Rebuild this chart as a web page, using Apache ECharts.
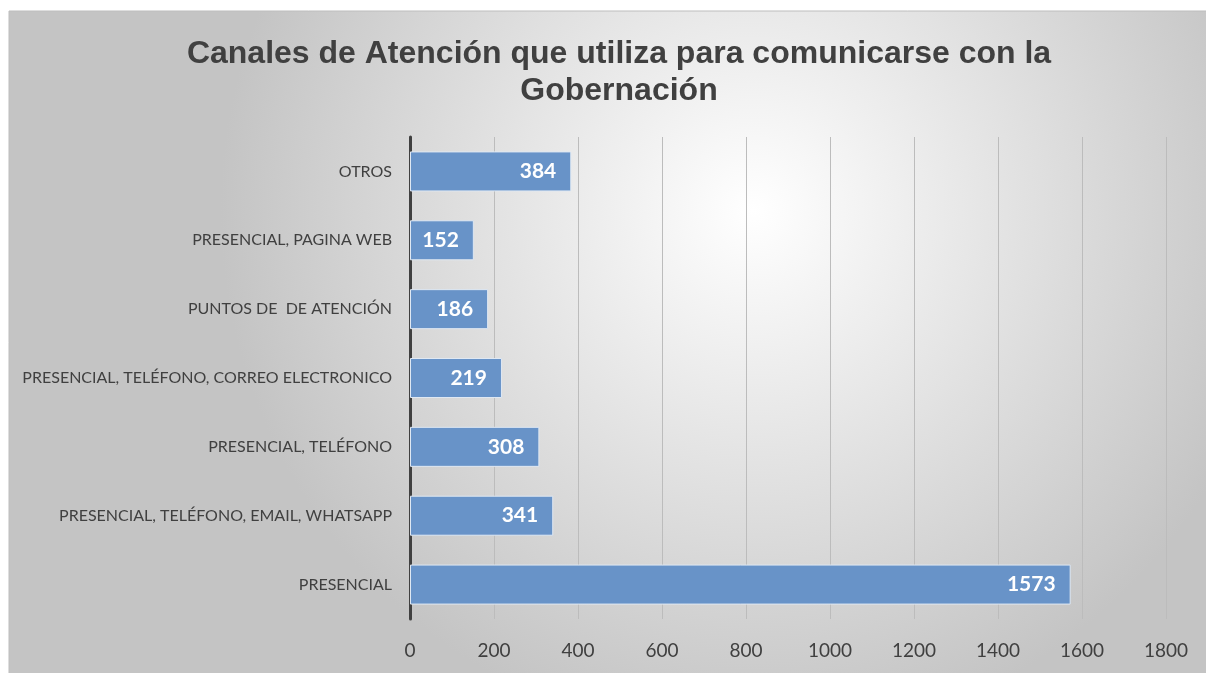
<!DOCTYPE html>
<html>
<head>
<meta charset="utf-8">
<script src="https://cdn.jsdelivr.net/npm/echarts@6/dist/echarts.min.js"></script>
<style>
    html, body { margin: 0; padding: 0; background: #fff; }
    #main { width: 1206px; height: 673px; }
</style>
</head>
<body>
<div id="main"></div>
<script>
// categories (top to bottom)
const categories = [
    'OTROS',
    'PRESENCIAL, PAGINA WEB',
    'PUNTOS DE  DE ATENCIÓN',
    'PRESENCIAL, TELÉFONO, CORREO ELECTRONICO',
    'PRESENCIAL, TELÉFONO',
    'PRESENCIAL, TELÉFONO, EMAIL, WHATSAPP',
    'PRESENCIAL'
]
const values = [384, 152, 186, 219, 308, 341, 1573]
const xTicks = [0, 200, 400, 600, 800, 1000, 1200, 1400, 1600, 1800]

const myChart = echarts.init(document.getElementById('main'))

myChart.setOption({
    animation: false,
    // fondo con degradado radial
    graphic: [{
        type: 'rect',
        z: -10,
        shape: { x: 9, y: 11, width: 1200, height: 665 },
        style: {
            fill: {
                type: 'radial', x: 0.62, y: 0.3, r: 0.8,
                colorStops: [
                    { offset: 0, color: '#ffffff' },
                    { offset: 1, color: '#c4c4c4' }
                ]
            },
            stroke: '#bdbdbd',
            lineWidth: 1
        }
    }],
    title: {
        text: 'Canales de Atención que utiliza para comunicarse con la\nGobernación',
        left: 614,
        top: 31,
        textAlign: 'center',
        textStyle: {
            fontFamily: 'Liberation Sans',
            fontWeight: 'bold',
            fontSize: 32,
            lineHeight: 37,
            color: '#404040'
        }
    },
    grid: {
        left: 410,
        right: 40,
        top: 137,
        bottom: 54
    },
    xAxis: {
        type: 'value',
        min: xTicks[0],
        max: xTicks[xTicks.length - 1],
        interval: 200,
        axisLine: { show: false },
        axisTick: { show: false },
        splitLine: { lineStyle: { color: '#bcbcbc', width: 1 } },
        axisLabel: {
            margin: 22,
            fontFamily: 'Lato',
            fontSize: 19,
            color: '#404040',
            formatter: (v) => String(v)
        }
    },
    yAxis: {
        type: 'category',
        inverse: true,
        data: categories,
        axisLine: { lineStyle: { color: '#404040', width: 3 } },
        axisTick: { show: false },
        axisLabel: {
            margin: 18,
            fontFamily: 'Lato',
            fontSize: 16,
            color: '#404040'
        }
    },
    series: [{
        type: 'bar',
        data: values,
        barWidth: 40,
        itemStyle: {
            color: '#6893c8',
            borderColor: '#dfe8f3',
            borderWidth: 1
        },
        label: {
            show: true,
            position: 'insideRight',
            distance: 15,
            fontFamily: 'Lato',
            fontWeight: 'bold',
            fontSize: 21,
            color: '#ffffff'
        }
    }]
})
</script>
</body>
</html>
